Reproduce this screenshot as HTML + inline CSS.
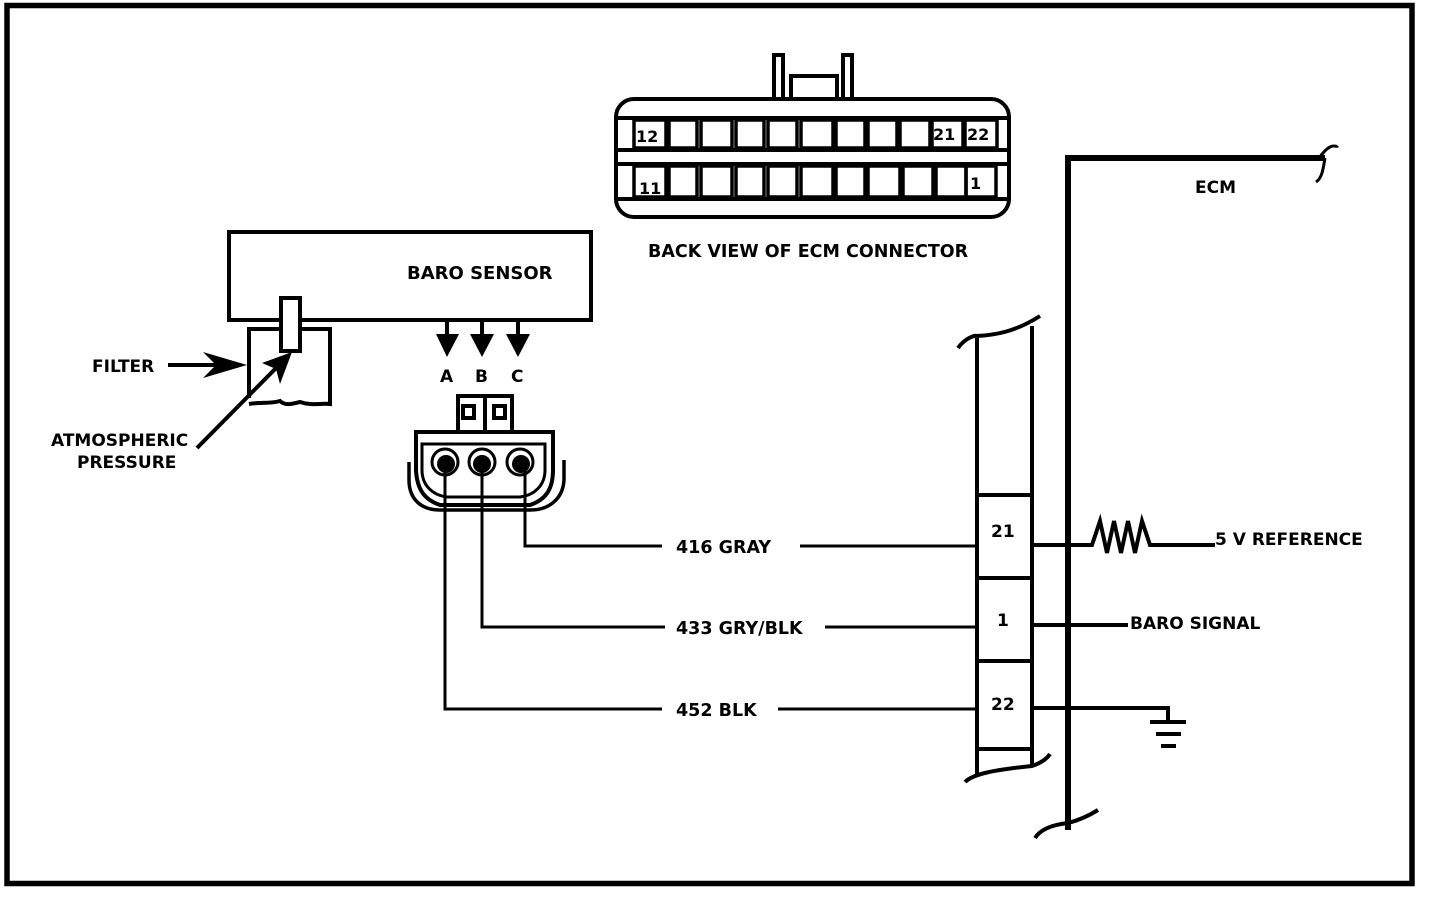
<!DOCTYPE html>
<html><head><meta charset="utf-8"><style>
html,body{margin:0;padding:0;background:#fff;}
svg{display:block}
text{font-family:"DejaVu Sans","Liberation Sans",sans-serif;font-weight:bold;fill:#000}
</style></head><body>
<svg width="1440" height="898" viewBox="0 0 1440 898" xmlns="http://www.w3.org/2000/svg">
<rect x="7" y="5.5" width="1405" height="878" fill="none" stroke="#000" stroke-width="5.5"/>

<!-- ECM connector -->
<g fill="none" stroke="#000" stroke-width="4">
<rect x="774" y="55" width="9" height="44" fill="#fff"/>
<rect x="843" y="55" width="9" height="44" fill="#fff"/>
<rect x="791" y="76" width="46" height="23"/>
<rect x="616" y="99" width="393" height="118" rx="18"/>
<line x1="617" y1="118" x2="1008" y2="118"/>
<line x1="617" y1="150" x2="1008" y2="150"/>
<line x1="617" y1="164" x2="1008" y2="164"/>
<line x1="617" y1="199" x2="1008" y2="199"/>
</g>
<g fill="none" stroke="#000" stroke-width="3.5">
<rect x="634" y="120" width="32" height="28"/>
<rect x="669" y="120" width="28" height="28"/>
<rect x="701" y="120" width="31" height="28"/>
<rect x="736" y="120" width="28" height="28"/>
<rect x="768" y="120" width="29" height="28"/>
<rect x="801" y="120" width="32" height="28"/>
<rect x="836" y="120" width="29" height="28"/>
<rect x="868" y="120" width="29" height="28"/>
<rect x="900" y="120" width="30" height="28"/>
<rect x="932" y="120" width="31" height="28"/>
<rect x="965" y="120" width="32" height="28"/>
<rect x="634" y="166" width="32" height="31"/>
<rect x="669" y="166" width="28" height="31"/>
<rect x="701" y="166" width="31" height="31"/>
<rect x="736" y="166" width="28" height="31"/>
<rect x="768" y="166" width="29" height="31"/>
<rect x="801" y="166" width="32" height="31"/>
<rect x="836" y="166" width="29" height="31"/>
<rect x="868" y="166" width="32" height="31"/>
<rect x="903" y="166" width="30" height="31"/>
<rect x="936" y="166" width="30" height="31"/>
<rect x="966" y="166" width="30" height="31"/>
</g>
<text x="636" y="142" font-size="16">12</text>
<text x="933" y="140" font-size="16">21</text>
<text x="967" y="140" font-size="16">22</text>
<text x="639" y="194" font-size="16">11</text>
<text x="970" y="189" font-size="16">1</text>
<text x="648" y="257" font-size="17.5">BACK VIEW OF ECM CONNECTOR</text>

<!-- ECM frame -->
<path d="M1068,830 V158 H1325" fill="none" stroke="#000" stroke-width="6"/>
<path d="M1319,158 C1332,140 1336,148 1338,146 M1325,158 C1323,170 1322,178 1316,182" fill="none" stroke="#000" stroke-width="3"/>
<path d="M1068,823 C1050,825 1040,830 1035,838 M1068,823 C1080,820 1090,815 1098,810" fill="none" stroke="#000" stroke-width="4"/>
<text x="1195" y="193" font-size="17">ECM</text>

<!-- connector strip -->
<g fill="none" stroke="#000" stroke-width="4">
<line x1="977" y1="338" x2="977" y2="777"/>
<line x1="1032" y1="326" x2="1032" y2="767"/>
<path d="M958,348 C965,338 975,335 977,336 C995,335 1015,332 1040,316"/>
<path d="M965,782 C972,775 990,770 1032,766 C1038,764 1046,760 1050,754"/>
<line x1="977" y1="495" x2="1032" y2="495"/>
<line x1="977" y1="578" x2="1032" y2="578"/>
<line x1="977" y1="661" x2="1032" y2="661"/>
<line x1="977" y1="749" x2="1032" y2="749"/>
</g>
<text x="991" y="537" font-size="17">21</text>
<text x="997" y="626" font-size="17">1</text>
<text x="991" y="710" font-size="17">22</text>

<!-- right side circuits -->
<g fill="none" stroke="#000" stroke-width="4">
<path d="M1032,545 H1092 L1100,521 L1107,553 L1114,521 L1121,553 L1128,521 L1135,553 L1142,521 L1150,545 H1215"/>
<line x1="1032" y1="625" x2="1128" y2="625"/>
<path d="M1032,708 H1168 V720"/>
<line x1="1150" y1="722" x2="1186" y2="722"/>
<line x1="1156" y1="734" x2="1181" y2="734"/>
<line x1="1161" y1="746" x2="1176" y2="746"/>
</g>
<text x="1215" y="545" font-size="17">5 V REFERENCE</text>
<text x="1130" y="629" font-size="17">BARO SIGNAL</text>

<!-- baro sensor -->
<rect x="229" y="232" width="362" height="88" fill="none" stroke="#000" stroke-width="4"/>
<text x="407" y="279" font-size="18">BARO SENSOR</text>
<path d="M249,398 V329 H279 M301,329 H330 V404 C320,403 312,406 300,402 C292,404 285,406 280,401 C270,404 260,402 249,404" fill="none" stroke="#000" stroke-width="4"/>
<rect x="281" y="298" width="19" height="53" fill="#fff" stroke="#000" stroke-width="4"/>
<line x1="168" y1="365" x2="232" y2="365" stroke="#000" stroke-width="4"/>
<polygon points="247,365 203,352 216,365 203,378" fill="#000"/>
<line x1="197" y1="448" x2="282" y2="362" stroke="#000" stroke-width="4"/>
<polygon points="292,352 262,363 276,369 280,384" fill="#000"/>
<text x="92" y="372" font-size="17">FILTER</text>
<text x="51" y="446" font-size="17">ATMOSPHERIC</text>
<text x="77" y="468" font-size="17">PRESSURE</text>

<!-- pin arrows -->
<g stroke="#000" stroke-width="4">
<line x1="447" y1="320" x2="447" y2="340"/><line x1="482" y1="320" x2="482" y2="340"/><line x1="518" y1="320" x2="518" y2="340"/>
</g>
<polygon points="436,334 459,334 447,357" fill="#000"/>
<polygon points="470,334 494,334 482,357" fill="#000"/>
<polygon points="506,334 530,334 518,357" fill="#000"/>
<text x="440" y="382" font-size="17">A</text>
<text x="475" y="382" font-size="17">B</text>
<text x="511" y="382" font-size="17">C</text>

<!-- sensor connector -->
<g fill="none" stroke="#000" stroke-width="4">
<rect x="458" y="396" width="54" height="36"/>
<line x1="485" y1="396" x2="485" y2="432"/>
<rect x="463" y="406" width="11" height="12"/>
<rect x="494" y="406" width="11" height="12"/>
<path d="M416,432 H553 V470 C553,490 545,500 530,505 H440 C425,500 417,490 416,470 Z"/>
<path d="M422,444 H545 V470 C545,485 535,495 520,497 H447 C432,495 422,485 422,470 Z" stroke-width="3"/>
<path d="M409,462 V480 C409,498 420,510 440,510 H530 C550,510 563,498 564,480 V460" stroke-width="3.5"/>
</g>
<g stroke="#000" stroke-width="3" fill="#fff">
<circle cx="445" cy="462" r="13"/><circle cx="482" cy="462" r="13"/><circle cx="520" cy="462" r="13"/>
</g>
<g fill="#000"><circle cx="446" cy="464" r="9"/><circle cx="482" cy="464" r="9"/><circle cx="521" cy="464" r="9"/></g>

<!-- wires -->
<g fill="none" stroke="#000" stroke-width="3">
<path d="M525,462 V546 H662"/>
<path d="M482,462 V627 H665"/>
<path d="M445,462 V709 H662"/>
<line x1="800" y1="546" x2="977" y2="546"/>
<line x1="825" y1="627" x2="977" y2="627"/>
<line x1="778" y1="709" x2="977" y2="709"/>
</g>
<text x="676" y="553" font-size="17.5">416  GRAY</text>
<text x="676" y="634" font-size="17.5">433  GRY/BLK</text>
<text x="676" y="716" font-size="17.5">452  BLK</text>
</svg>
</body></html>
